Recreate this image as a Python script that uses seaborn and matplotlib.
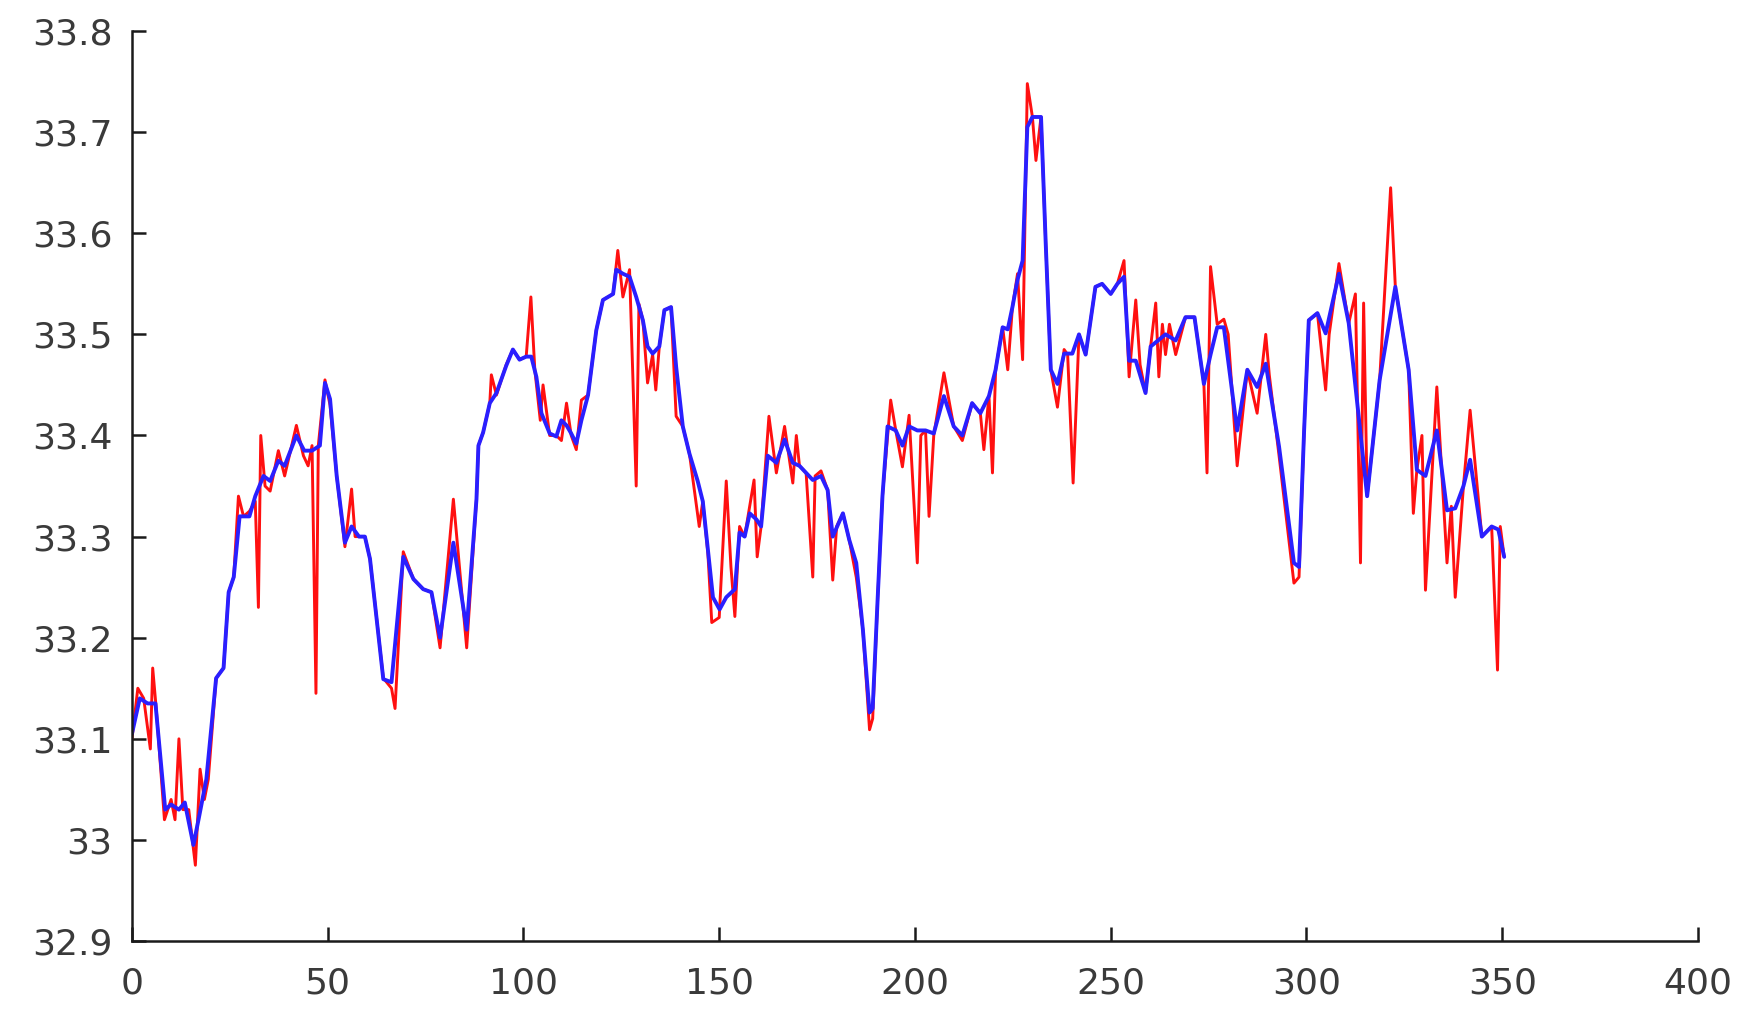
import numpy as np
import pandas as pd
import matplotlib
matplotlib.use("Agg")
import matplotlib.pyplot as plt
import seaborn as sns
from matplotlib.ticker import FuncFormatter

# smoothed series (blue)
blue_x = [0, 2, 4, 6, 8.5, 10, 12, 13.5, 15.7, 17, 19, 21.5, 23.4, 24.7, 26, 27.5, 30, 31.5,
          33.6, 35.3, 37.4, 39, 42, 44, 46, 48, 49.3, 50.6, 52.3, 54.4, 56.1, 58, 59.5, 60.8,
          64.2, 66.3, 69.3, 71.9, 74.4, 76.5, 78.7, 82.1, 85.5, 88, 88.5, 89.7, 91.4, 93.1,
          95.6, 97.3, 99, 100.7, 102, 103.3, 104.6, 106.7, 108.4, 109.7, 111, 112.2, 113.5,
          114.8, 116.5, 118.6, 120.3, 122.9, 123.7, 125.4, 127.1, 128.8, 130.5, 131.7, 133,
          134.7, 136, 137.7, 139, 140.7, 142.4, 144.5, 145.8, 147.3, 148.4, 150.1, 151.8, 154,
          155.2, 156.5, 157.8, 159.5, 160.7, 162.4, 164.6, 166.7, 168.8, 170.5, 172.2, 173.9,
          176, 177.7, 179, 181.6, 183.2, 185, 186.7, 188.4, 189.2, 190.5, 191.7, 193, 195.1,
          196.8, 198.5, 200.6, 202.7, 204.8, 207.4, 209.9, 212.1, 214.6, 216.7, 218.9, 220.6,
          222.4, 223.7, 224.9, 226.2, 227.5, 228.7, 230, 232.2, 233.4, 234.7, 236.4, 238.1,
          240.2, 241.9, 243.6, 246.1, 247.8, 250, 251.7, 253.4, 254.7, 256.4, 258.9, 260.2,
          264, 266.6, 269.1, 271.4, 273.8, 275.5, 277.2, 278.9, 282.3, 284.9, 287.4, 289.6,
          293, 296.8, 298.1, 299.4, 300.6, 302.8, 304.9, 308.3, 310.8, 315.5, 318.7, 322.7,
          326.1, 328.2, 330.4, 333.3, 335.9, 338, 340.1, 341.8, 344.8, 347.3, 349, 350.5]
blue_y = [33.105, 33.14, 33.135, 33.135, 33.03, 33.035, 33.03, 33.037, 32.995, 33.02, 33.06,
          33.16, 33.17, 33.245, 33.26, 33.32, 33.32, 33.34, 33.36, 33.355, 33.375, 33.37, 33.40,
          33.385, 33.385, 33.39, 33.452, 33.436, 33.36, 33.294, 33.31, 33.30, 33.30, 33.278,
          33.159, 33.156, 33.28, 33.258, 33.248, 33.245, 33.20, 33.294, 33.208, 33.337, 33.39,
          33.403, 33.432, 33.442, 33.469, 33.485, 33.475, 33.478, 33.478, 33.458, 33.422,
          33.402, 33.399, 33.415, 33.41, 33.402, 33.392, 33.415, 33.44, 33.504, 33.534, 33.54,
          33.564, 33.56, 33.557, 33.537, 33.514, 33.488, 33.481, 33.488, 33.524, 33.527,
          33.468, 33.409, 33.382, 33.355, 33.335, 33.28, 33.24, 33.228, 33.24, 33.248, 33.304,
          33.30, 33.323, 33.317, 33.31, 33.38, 33.373, 33.396, 33.373, 33.37, 33.363, 33.356,
          33.36, 33.346, 33.30, 33.323, 33.297, 33.274, 33.208, 33.126, 33.13, 33.241, 33.34,
          33.409, 33.405, 33.39, 33.409, 33.405, 33.405, 33.402, 33.439, 33.409, 33.40, 33.432,
          33.422, 33.439, 33.465, 33.507, 33.505, 33.527, 33.554, 33.573, 33.705, 33.715,
          33.715, 33.59, 33.465, 33.451, 33.481, 33.481, 33.50, 33.48, 33.547, 33.55, 33.54,
          33.55, 33.557, 33.474, 33.474, 33.442, 33.488, 33.50, 33.494, 33.517, 33.517, 33.451,
          33.48, 33.507, 33.507, 33.405, 33.465, 33.448, 33.471, 33.389, 33.274, 33.27, 33.405,
          33.514, 33.521, 33.501, 33.56, 33.511, 33.34, 33.455, 33.547, 33.465, 33.366, 33.36,
          33.405, 33.326, 33.328, 33.35, 33.376, 33.30, 33.31, 33.307, 33.28]

# raw series (red)
red_x = [0, 1.5, 3, 4.7, 5.3, 6.2, 8.3, 10, 11, 12, 13, 14.5, 16.2, 17.4, 18.5, 19.5, 21.5,
         23.4, 24.7, 26, 27.2, 28.5, 30, 31.5, 32.3, 32.9, 34, 35.3, 37.4, 39, 42, 43.8, 45,
         46, 47, 47.6, 49.3, 50.6, 52.3, 54.4, 56.1, 57, 59.5, 60.8, 64.2, 66.3, 67.2, 69.3,
         71.9, 74.4, 76.5, 78.7, 82.1, 85.5, 88, 88.5, 89.7, 91.4, 91.8, 93.1, 95.6, 97.3, 99,
         100.7, 101.9, 102.9, 104.3, 105, 106.7, 108.4, 109.7, 111, 112.2, 113.5, 114.8, 116.5,
         118.6, 120.3, 122.9, 124.1, 125.4, 127.1, 128.8, 129.5, 130.5, 131.7, 133, 133.8,
         134.7, 136, 137.7, 139, 140.7, 142.4, 144.9, 145.8, 147.1, 148.1, 150, 151.8, 153,
         154, 155.2, 156.5, 158.9, 159.7, 160.7, 162.7, 164.6, 166.7, 168.8, 169.7, 170.5,
         172.2, 173.9, 174.5, 176, 177.7, 179, 180, 181.6, 183.2, 185, 186.7, 188.4, 189.2,
         190.5, 191.7, 193.8, 195.1, 196.8, 198.5, 200.6, 201.5, 202.7, 203.6, 204.8, 207.4,
         209.9, 212.1, 214.6, 216.7, 217.6, 218.9, 219.8, 220.6, 222.4, 223.7, 224.9, 226.2,
         227.5, 228.7, 230, 230.9, 232.2, 233.4, 234.7, 236.4, 238.1, 239, 240.4, 241.9, 243.6,
         246.1, 247.8, 250, 251.7, 253.4, 254.7, 256.4, 257.5, 258.9, 260.2, 261.5, 262.3,
         263.2, 264, 265, 266.6, 269.1, 271.4, 273.8, 274.6, 275.5, 277.2, 278.9, 280, 282.3,
         284.9, 287.4, 289.6, 290.5, 293, 296.8, 298.1, 299.4, 300.6, 302.8, 304.9, 305.8,
         308.3, 310.8, 312.5, 313.8, 314.6, 315.5, 318.7, 321.5, 322.7, 326.1, 327.3, 328.2,
         329.5, 330.4, 333.3, 335.9, 337, 338, 340.1, 341.8, 344.8, 347.3, 348.8, 349.5, 350.5]
red_y = [33.10, 33.15, 33.14, 33.09, 33.17, 33.13, 33.02, 33.04, 33.02, 33.10, 33.03, 33.03,
         32.975, 33.07, 33.04, 33.06, 33.16, 33.17, 33.245, 33.26, 33.34, 33.32, 33.325, 33.335,
         33.23, 33.40, 33.35, 33.345, 33.385, 33.36, 33.41, 33.38, 33.37, 33.39, 33.145, 33.39,
         33.455, 33.43, 33.36, 33.29, 33.347, 33.30, 33.30, 33.278, 33.16, 33.15, 33.13, 33.285,
         33.258, 33.248, 33.245, 33.19, 33.337, 33.19, 33.337, 33.39, 33.403, 33.432, 33.46,
         33.44, 33.47, 33.485, 33.475, 33.478, 33.537, 33.465, 33.415, 33.45, 33.40, 33.40,
         33.395, 33.432, 33.40, 33.386, 33.435, 33.44, 33.504, 33.534, 33.54, 33.583, 33.537,
         33.564, 33.35, 33.53, 33.514, 33.452, 33.48, 33.445, 33.488, 33.524, 33.527, 33.419,
         33.409, 33.382, 33.31, 33.335, 33.284, 33.215, 33.22, 33.355, 33.27, 33.221, 33.31,
         33.30, 33.356, 33.28, 33.31, 33.419, 33.363, 33.409, 33.353, 33.40, 33.37, 33.363,
         33.26, 33.36, 33.365, 33.346, 33.257, 33.31, 33.323, 33.297, 33.26, 33.208, 33.109,
         33.12, 33.241, 33.34, 33.435, 33.405, 33.369, 33.42, 33.274, 33.40, 33.405, 33.32,
         33.40, 33.462, 33.409, 33.395, 33.432, 33.422, 33.386, 33.439, 33.363, 33.465, 33.507,
         33.465, 33.527, 33.56, 33.475, 33.748, 33.715, 33.672, 33.715, 33.59, 33.465, 33.428,
         33.485, 33.48, 33.353, 33.50, 33.48, 33.547, 33.55, 33.54, 33.55, 33.573, 33.458,
         33.534, 33.47, 33.442, 33.488, 33.531, 33.458, 33.51, 33.48, 33.51, 33.48, 33.517,
         33.517, 33.451, 33.363, 33.567, 33.51, 33.515, 33.50, 33.37, 33.465, 33.422, 33.50,
         33.46, 33.38, 33.254, 33.26, 33.405, 33.514, 33.521, 33.445, 33.50, 33.57, 33.511,
         33.54, 33.274, 33.531, 33.34, 33.455, 33.645, 33.547, 33.465, 33.323, 33.366, 33.40,
         33.247, 33.448, 33.274, 33.33, 33.24, 33.35, 33.425, 33.30, 33.31, 33.168, 33.31,
         33.28]

x_ticks = [0, 50, 100, 150, 200, 250, 300, 350, 400]
y_ticks = [32.9, 33.0, 33.1, 33.2, 33.3, 33.4, 33.5, 33.6, 33.7, 33.8]

sns.set_theme(style="white")
plt.rcParams['font.family'] = ['DejaVu Sans']

fig = plt.figure(figsize=(17.57, 10.21), dpi=100)
ax = fig.add_axes([0.0751, 0.0783, 0.8913, 0.8913])

red_df = pd.DataFrame({"x": red_x, "y": red_y})
blue_df = pd.DataFrame({"x": blue_x, "y": blue_y})
sns.lineplot(data=red_df, x="x", y="y", ax=ax, color="#ff1010", linewidth=2.1, sort=False)
sns.lineplot(data=blue_df, x="x", y="y", ax=ax, color="#2a1fff", linewidth=2.8, sort=False)

ax.set_xlim(0, 400)
ax.set_ylim(32.9, 33.8)
ax.set_xticks(x_ticks)
ax.set_yticks(y_ticks)
ax.yaxis.set_major_formatter(FuncFormatter(lambda v, p: f"{v:g}"))
ax.set_xlabel("")
ax.set_ylabel("")
for s in ["top", "right"]:
    ax.spines[s].set_visible(False)
for s in ["left", "bottom"]:
    ax.spines[s].set_color("#1a1a1a")
    ax.spines[s].set_linewidth(1.8)
ax.tick_params(axis="both", direction="in", length=10, width=1.8, color="#1a1a1a",
               labelcolor="#3a3a3a", labelsize=26, bottom=True, left=True)
ax.tick_params(axis="x", pad=18)
ax.tick_params(axis="y", pad=14)
ax.grid(False)

fig.savefig("out.png", dpi=100)
